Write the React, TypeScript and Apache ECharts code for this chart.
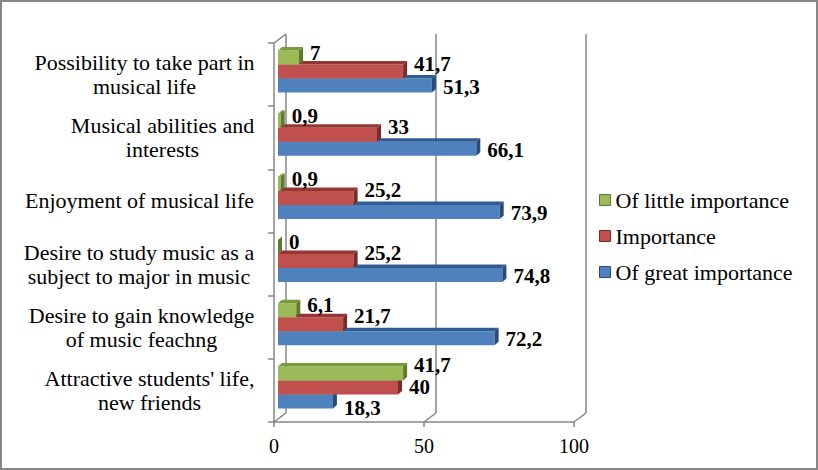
import React, { useEffect, useRef } from "react";
import * as echarts from "echarts";

const CATEGORIES = [
  "Possibility to take part in\nmusical life",
  "Musical abilities and\ninterests",
  "Enjoyment of musical life",
  "Desire to study music as a\nsubject to major in music",
  "Desire to gain knowledge\nof music feachng",
  "Attractive students' life,\nnew friends",
];
const SERIES_NAMES = ["Of little importance", "Importance", "Of great importance"];
const LITTLE = [7, 0.9, 0.9, 0, 6.1, 41.7];
const IMPORTANCE = [41.7, 33, 25.2, 25.2, 21.7, 40];
const GREAT = [51.3, 66.1, 73.9, 74.8, 72.2, 18.3];
const X_TICKS = [0, 50, 100];

const FONT = "Liberation Serif";
const GRID_LINE = "#868686";

// colours per series: [front, top, side]
const COLORS = [
  ["#9BBB59", "#7A9A3A", "#5F7A2C"],
  ["#C0504D", "#943634", "#7A2A28"],
  ["#4F81BD", "#2F5C92", "#264C7A"],
];
// vertical placement of each series' bar inside a band (relative to band centre)
const BAR_TOP = [-24, -10, 4];
const BAR_H = 14;
const LABEL_DY = [-5, -8, 1];
const LABEL_DY_OVERRIDE: Record<number, number[]> = { 5: [-8, 0, 7] };

function fmt(v: number) {
  return String(v).replace(".", ",");
}

function measure(text: string, font: string) {
  const c = document.createElement("canvas").getContext("2d");
  if (!c) return text.length * 10;
  c.font = font;
  return Math.max(...text.split("\n").map((l) => c.measureText(l).width));
}

function barSeries(s: number, values: number[]) {
  return {
    type: "custom",
    name: SERIES_NAMES[s],
    xAxisIndex: 0,
    yAxisIndex: 0,
    itemStyle: { color: COLORS[s][0] },
    encode: { x: 0, y: 1 },
    data: values.map((v, i) => [v, i]),
    renderItem: (params: any, api: any) => {
      const v = api.value(0);
      const ci = api.value(1);
      const p0 = api.coord([0, ci]);
      const p1 = api.coord([v, ci]);
      const shift = 4;
      const d = 4;
      const dy = 3.5;
      const x0 = p0[0] + shift;
      const x1 = p1[0] + shift;
      const yt = p0[1] + BAR_TOP[s];
      const yb = yt + BAR_H;
      const [front, top, side] = COLORS[s];
      const ldy = (LABEL_DY_OVERRIDE[ci] || LABEL_DY)[s];
      return {
        type: "group",
        children: [
          { type: "rect", shape: { x: x0, y: yt, width: x1 - x0, height: BAR_H }, style: { fill: front } },
          {
            type: "polygon",
            shape: { points: [[x0, yt], [x1, yt], [x1 + d, yt - dy], [x0 + d, yt - dy]] },
            style: { fill: top },
          },
          {
            type: "polygon",
            shape: { points: [[x1, yt], [x1 + d, yt - dy], [x1 + d, yb - dy], [x1, yb]] },
            style: { fill: side },
          },
          {
            type: "text",
            z2: 10,
            style: {
              x: x1 + 11,
              y: (yt + yb) / 2 + ldy,
              text: fmt(v),
              fill: "#000",
              fontFamily: FONT,
              fontSize: 21,
              fontWeight: "bold",
              lineHeight: 17,
              align: "left",
              verticalAlign: "middle",
            },
          },
        ],
      };
    },
  };
}

export default function App() {
  const ref = useRef<HTMLDivElement>(null);
  useEffect(() => {
    if (!ref.current) return;
    const chart = echarts.init(ref.current, null, { renderer: "svg" });
    const rich: Record<string, any> = {};
    CATEGORIES.forEach((c, i) => {
      rich["c" + i] = {
        width: Math.ceil(measure(c, `22px "${FONT}"`)) + 1,
        align: "center",
        fontSize: 22,
        lineHeight: 24,
        fontFamily: FONT,
        color: "#000",
      };
    });
    const option: any = {
      animation: false,
      backgroundColor: "#ffffff",
      graphic: [
        {
          type: "rect",
          z: -10,
          shape: { x: 1, y: 1, width: 816, height: 468 },
          style: { fill: "none", stroke: GRID_LINE, lineWidth: 2 },
        },
      ],
      legend: {
        orient: "vertical",
        left: 594,
        top: 184,
        itemWidth: 11,
        itemHeight: 11,
        itemGap: 14,
        icon: "rect",
        textStyle: { fontSize: 22, lineHeight: 22, fontFamily: FONT, color: "#000" },
        data: SERIES_NAMES.map((n, s) => ({
          name: n,
          itemStyle: { color: COLORS[s][0], borderColor: COLORS[s][2], borderWidth: 1 },
        })),
      },
      grid: [
        { left: 274, top: 43, width: 300, height: 379 },
        { left: 286, top: 34, width: 300, height: 379 },
      ],
      xAxis: [
        {
          type: "value",
          gridIndex: 0,
          min: 0,
          max: 100,
          interval: 50,
          axisLine: { show: true, lineStyle: { color: GRID_LINE, width: 1.5 } },
          axisTick: { show: true, length: 5, lineStyle: { color: GRID_LINE, width: 1.5 } },
          axisLabel: { fontSize: 20, fontFamily: FONT, color: "#000", margin: 14 },
          splitLine: { show: false },
        },
        {
          type: "value",
          gridIndex: 1,
          min: 0,
          max: 100,
          interval: 50,
          axisLine: { show: false },
          axisTick: { show: false },
          axisLabel: { show: false },
          splitLine: { show: true, lineStyle: { color: GRID_LINE, width: 1.5 } },
        },
      ],
      yAxis: [
        {
          type: "category",
          gridIndex: 0,
          inverse: true,
          data: CATEGORIES,
          axisLine: { show: true, lineStyle: { color: GRID_LINE, width: 1.5 } },
          axisTick: { show: true, length: 6, lineStyle: { color: GRID_LINE, width: 1.5 } },
          axisLabel: {
            align: "right",
            margin: 19,
            fontFamily: FONT,
            fontSize: 22,
            formatter: (val: string, idx: number) =>
              val
                .split("\n")
                .map((l) => `{c${idx}|${l}}`)
                .join("\n"),
            rich,
          },
          splitLine: { show: false },
        },
        { type: "value", gridIndex: 1, show: false },
      ],
      series: [
        {
          type: "custom",
          name: "frame",
          xAxisIndex: 0,
          yAxisIndex: 0,
          encode: { x: 0, y: 1 },
          data: X_TICKS.map((t) => [t, 0]),
          silent: true,
          z: 1,
          renderItem: (params: any, api: any) => {
            const t = api.value(0);
            const x = api.coord([t, 0])[0];
            const cs = params.coordSys;
            const bottom = cs.y + cs.height;
            const top = cs.y;
            const children: any[] = [
              {
                type: "line",
                shape: { x1: x, y1: bottom, x2: x + 12, y2: bottom - 9 },
                style: { stroke: GRID_LINE, lineWidth: 1.5 },
              },
            ];
            if (t === 0) {
              children.push({
                type: "line",
                shape: { x1: x, y1: top, x2: x + 12, y2: top - 9 },
                style: { stroke: GRID_LINE, lineWidth: 1.5 },
              });
            }
            return { type: "group", children };
          },
        },
        barSeries(2, GREAT),
        barSeries(1, IMPORTANCE),
        barSeries(0, LITTLE),
      ],
    };
    chart.setOption(option);
    return () => chart.dispose();
  }, []);
  return (
    <div
      ref={ref}
      style={{ position: "fixed", left: 0, top: 0, width: 818, height: 470, background: "#fff" }}
    />
  );
}
